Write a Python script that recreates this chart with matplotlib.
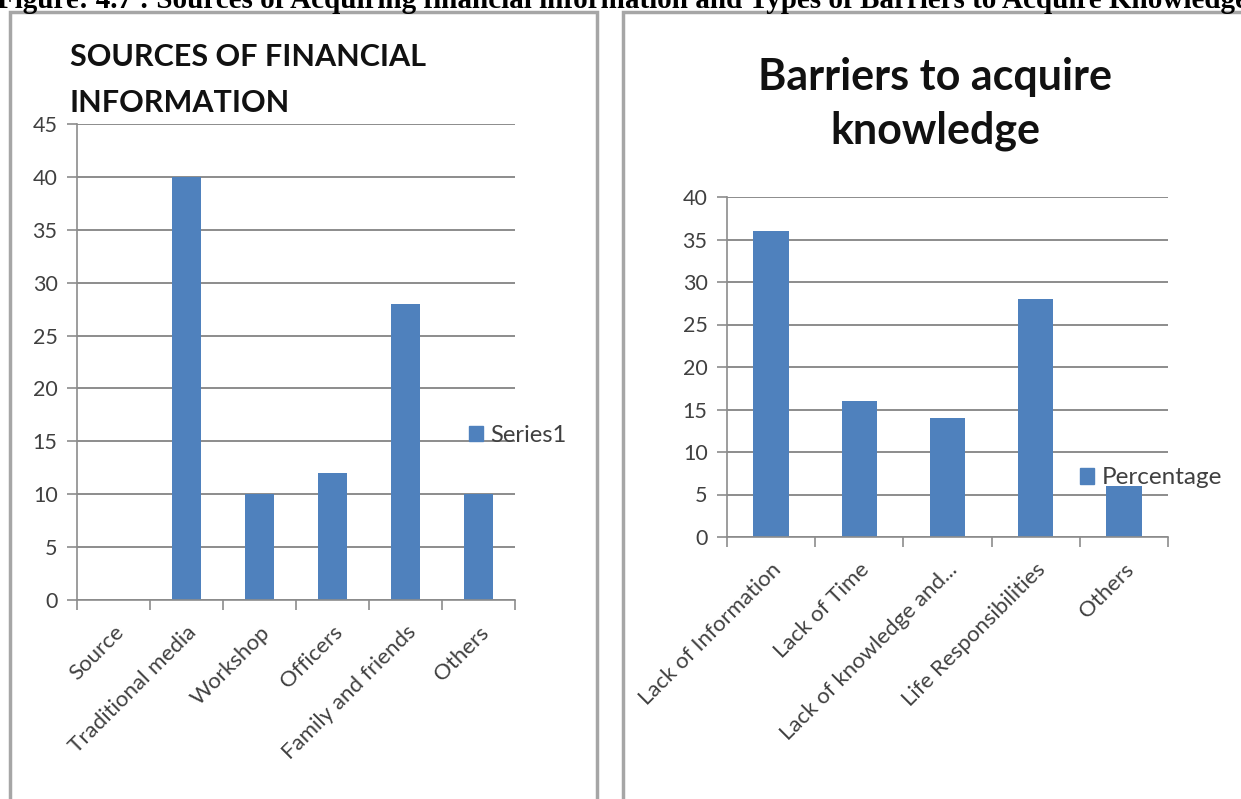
import matplotlib.pyplot as plt
from matplotlib.patches import Rectangle, Patch
import numpy as np

plt.rcParams['font.family'] = ['Lato', 'DejaVu Sans']

# left chart data
source_labels = ['Source', 'Traditional media', 'Workshop', 'Officers', 'Family and friends', 'Others']
source_values = [0, 40, 10, 12, 28, 10]

# right chart data
barrier_labels = ['Lack of Information', 'Lack of Time', 'Lack of knowledge and...', 'Life Responsibilities', 'Others']
barrier_values = [36, 16, 14, 28, 6]

BLUE = '#4F81BD'
GRID = '#8c8c8c'
TXT = '#404040'
W, H = 1241, 799


def fx(px):
    return px / W


def fy(py):
    return 1 - py / H


def style_axes(ax, n, ymax, step):
    ax.set_xlim(-0.5, n - 0.5)
    ax.set_ylim(0, ymax)
    ax.set_yticks(np.arange(0, ymax + 1, step))
    ax.yaxis.grid(True, color=GRID, lw=1.4)
    ax.set_axisbelow(True)
    for s in ['top', 'right']:
        ax.spines[s].set_visible(False)
    for s in ['left', 'bottom']:
        ax.spines[s].set_color(GRID)
        ax.spines[s].set_linewidth(1.2)
    ax.tick_params(axis='y', colors=GRID, length=7, width=1.2, labelsize=15.5, labelcolor=TXT, pad=7)
    ax.set_xticks(np.arange(-0.5, n, 1), minor=True)
    ax.tick_params(axis='x', which='minor', length=7, width=1.2, color=GRID)
    ax.tick_params(axis='x', which='major', length=0, labelsize=16, labelcolor=TXT, pad=16)


def main():
    fig = plt.figure(figsize=(W / 100, H / 100), dpi=100)

    # panel frames
    fig.add_artist(Rectangle((fx(10), fy(812)), fx(587), 800 / H, transform=fig.transFigure,
                             fill=False, ec='#a6a6a6', lw=2.5))
    fig.add_artist(Rectangle((fx(623), fy(812)), fx(640), 800 / H, transform=fig.transFigure,
                             fill=False, ec='#a6a6a6', lw=2.5))

    fig.text(fx(-3), fy(8), 'Figure: 4.7 : Sources of Acquiring financial information and Types of Barriers to Acquire Knowledge',
             family='Liberation Serif', weight='bold', fontsize=21, ha='left', va='baseline')

    # left chart
    ax1 = fig.add_axes([fx(77), fy(600), fx(438), fy(124) - fy(600)])
    x1 = np.arange(len(source_labels))
    ax1.bar(x1, source_values, width=0.4, color=BLUE)
    style_axes(ax1, len(source_labels), 45, 5)
    ax1.set_xticks(x1)
    ax1.set_xticklabels(source_labels, rotation=45, ha='right', rotation_mode='anchor')
    fig.text(fx(70), fy(43), 'SOURCES OF FINANCIAL\nINFORMATION', fontsize=22, weight='bold',
             ha='left', va='top', linespacing=1.8, color='#111111')
    fig.legend(handles=[Patch(color=BLUE, label='Series1')], loc='center left',
               bbox_to_anchor=(fx(448), fy(435)), frameon=False, fontsize=17,
               handlelength=0.6, handleheight=0.6, handletextpad=0.3, labelcolor=TXT)

    # right chart
    ax2 = fig.add_axes([fx(727), fy(537), fx(441), fy(197) - fy(537)])
    x2 = np.arange(len(barrier_labels))
    ax2.bar(x2, barrier_values, width=0.4, color=BLUE)
    style_axes(ax2, len(barrier_labels), 40, 5)
    ax2.set_xticks(x2)
    ax2.set_xticklabels(barrier_labels, rotation=45, ha='right', rotation_mode='anchor')
    fig.text(fx(935), fy(57), 'Barriers to acquire\nknowledge', fontsize=31, weight='bold',
             ha='center', va='top', linespacing=1.4, color='#111111')
    fig.legend(handles=[Patch(color=BLUE, label='Percentage')], loc='center left',
               bbox_to_anchor=(fx(1058), fy(478)), frameon=False, fontsize=17.5,
               handlelength=0.6, handleheight=0.6, handletextpad=0.3, labelcolor=TXT)

    fig.savefig('out.png', dpi=100)


if __name__ == '__main__':
    main()
